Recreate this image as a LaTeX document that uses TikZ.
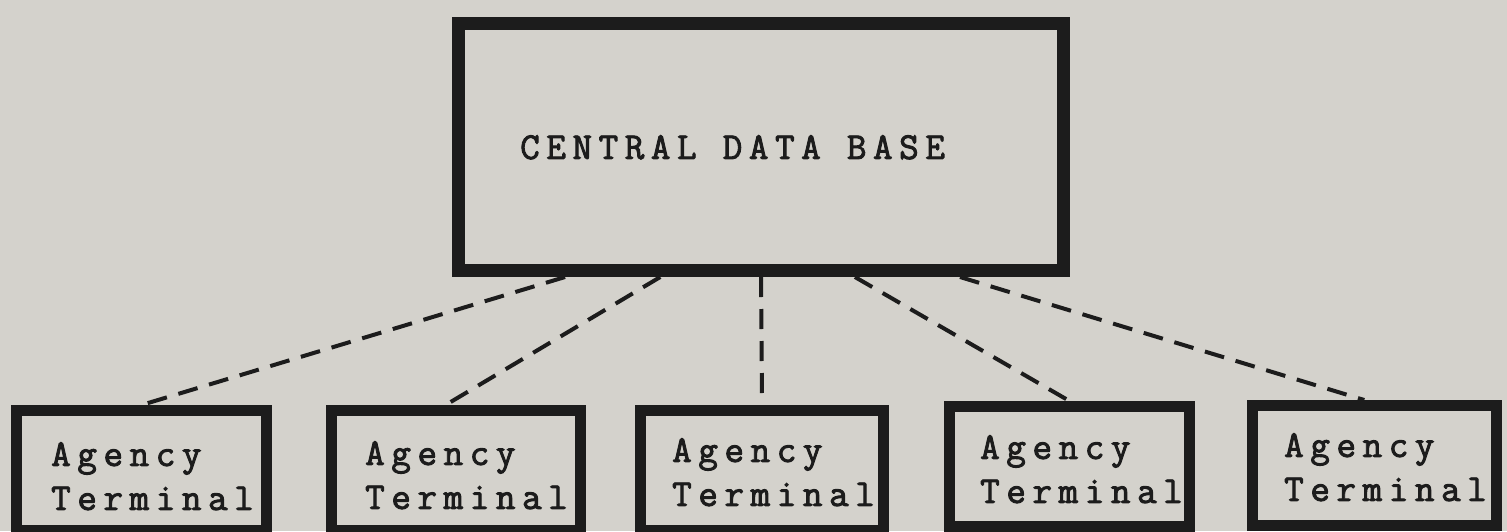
\documentclass[tikz,border=0pt]{standalone}
\usepackage{fontspec}
\usetikzlibrary{calc}
\newfontfamily\twfont[LetterSpace=17.3,FakeBold=2.4]{Latin Modern Mono}
\definecolor{paper}{RGB}{212,210,204}
\definecolor{ink}{RGB}{28,28,28}
\begin{document}
\begin{tikzpicture}[x=1pt,y=-1pt,
  bigbox/.style={draw=ink,line width=13pt,rectangle,minimum width=605pt,minimum height=247pt,inner sep=0pt},
  twtext/.style={font=\twfont\fontsize{38}{44}\selectfont,text=ink,inner sep=0pt,anchor=north west},
  termbox/.style={draw=ink,line width=11pt,rectangle,minimum height=120pt,inner sep=0pt},
  link/.style={draw=ink,line width=4pt,dash pattern=on 20pt off 12pt}]
\fill[paper] (0,0) rectangle (1507,531);
\useasboundingbox (0,0) rectangle (1507,531);
\node[bigbox] (cdb) at (761,147) {};
\node[twtext] (cdbtext) at (520,135) {CENTRAL DATA BASE};
\node[termbox,minimum width=250pt] (t1) at (141.5,470.5) {};
\node[termbox,minimum width=249pt] (t2) at (456,470.5) {};
\node[termbox,minimum width=243pt] (t3) at (762,470) {};
\node[termbox,minimum width=240pt] (t4) at (1069.5,466.5) {};
\node[termbox,minimum width=244pt] (t5) at (1374.5,465.5) {};
\node[twtext,align=left] (l1) at (51,442) {Agency\\Terminal};
\node[twtext,align=left] (l2) at (365,441) {Agency\\Terminal};
\node[twtext,align=left] (l3) at (672,438) {Agency\\Terminal};
\node[twtext,align=left] (l4) at (980,435) {Agency\\Terminal};
\node[twtext,align=left] (l5) at (1284,433) {Agency\\Terminal};
\draw[link] ($(cdb.south west)!0.183!(cdb.south east)$) -- (t1.north);
\draw[link] ($(cdb.south west)!0.337!(cdb.south east)$) -- ($(t2.north west)!0.46!(t2.north east)$);
\draw[link] (cdb.south) -- (t3.north);
\draw[link] ($(cdb.south west)!0.652!(cdb.south east)$) -- (t4.north);
\draw[link] ($(cdb.south west)!0.822!(cdb.south east)$) -- ($(t5.north west)!0.46!(t5.north east)$);
\end{tikzpicture}
\end{document}
